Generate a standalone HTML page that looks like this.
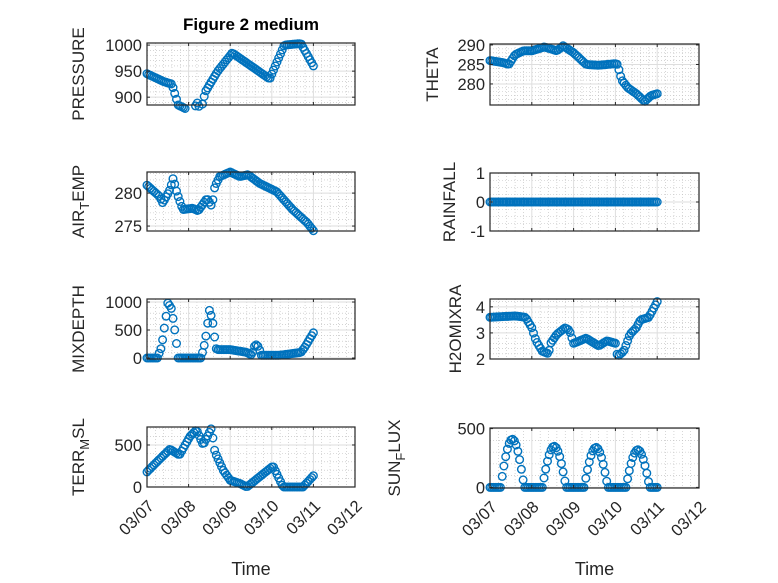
<!DOCTYPE html>
<html><head><meta charset="utf-8"><style>
html,body{margin:0;padding:0;background:#fff;}
svg{display:block;font-family:"Liberation Sans",sans-serif;}
</style></head><body>
<svg id="s" width="778" height="583" xmlns="http://www.w3.org/2000/svg"></svg>
<script>
const S=document.getElementById('s');
let h='';
function lin(kp,t){for(let i=0;i<kp.length-1;i++){if(t>=kp[i][0]&&t<=kp[i+1][0]){const a=kp[i],b=kp[i+1];return a[1]+(b[1]-a[1])*(t-a[0])/(b[0]-a[0]);}}return kp[kp.length-1][1];}
function axes(o){
 const {x0,x1,y0,y1,ymin,ymax,yt,minorY,data,label,lx,xt}=o;
 const X=t=>x0+(x1-x0)*t/5, Y=v=>y1-(y1-y0)*(v-ymin)/(ymax-ymin);
 for(let d=0;d<5;d++)for(let k=1;k<5;k++){const x=X(d+k/5);h+=`<line x1="${x}" y1="${y0}" x2="${x}" y2="${y1}" stroke="#bbb" stroke-width="0.6" stroke-dasharray="1,2"/>`;}
 for(const v of minorY){const y=Y(v);if(y>y0&&y<y1)h+=`<line x1="${x0}" y1="${y}" x2="${x1}" y2="${y}" stroke="#bbb" stroke-width="0.6" stroke-dasharray="1,2"/>`;}
 for(let d=1;d<5;d++){const x=X(d);h+=`<line x1="${x}" y1="${y0}" x2="${x}" y2="${y1}" stroke="#dedede" stroke-width="1"/>`;}
 for(const v of yt){const y=Y(v);h+=`<line x1="${x0}" y1="${y}" x2="${x1}" y2="${y}" stroke="#dedede" stroke-width="1"/>`;}
 let c='';
 for(const p of data){const x=X(p[0]),y=Y(p[1]);if(y<y0-4||y>y1+4)continue;c+=`<circle cx="${x.toFixed(1)}" cy="${y.toFixed(1)}" r="3.8"/>`;}
 h+=`<g fill="none" stroke="#0072BD" stroke-width="1.4">${c}</g>`;
 h+=`<rect x="${x0}" y="${y0}" width="${x1-x0}" height="${y1-y0}" fill="none" stroke="#262626" stroke-width="1.2"/>`;
 for(let d=0;d<=5;d++){const x=X(d);h+=`<line x1="${x}" y1="${y1}" x2="${x}" y2="${y1-3}" stroke="#262626"/><line x1="${x}" y1="${y0}" x2="${x}" y2="${y0+3}" stroke="#262626"/>`;}
 for(const v of yt){const y=Y(v);h+=`<line x1="${x0}" y1="${y}" x2="${x0+3}" y2="${y}" stroke="#262626"/><line x1="${x1}" y1="${y}" x2="${x1-3}" y2="${y}" stroke="#262626"/>`;
  h+=`<text x="${x0-5}" y="${y+6}" font-size="16.5" fill="#262626" text-anchor="end">${v}</text>`;}
 const cy=(y0+y1)/2;
 h+=`<text transform="translate(${lx},${cy}) rotate(-90)" font-size="17" fill="#262626" text-anchor="middle">${label}</text>`;
 if(xt){const L=['03/07','03/08','03/09','03/10','03/11','03/12'];
  for(let d=0;d<=5;d++){const x=X(d);h+=`<text transform="translate(${x+8},${y1+20}) rotate(-45)" font-size="16.5" fill="#262626" text-anchor="end">${L[d]}</text>`;}
  h+=`<text x="${(x0+x1)/2}" y="575" font-size="18" fill="#262626" text-anchor="middle">Time</text>`;}
}
function gen(kp){const a=[];for(let i=0;i<=96;i++){const t=i/24;a.push([t,lin(kp,t)]);}return a;}
const L0=147,L1=355,R0=490,R1=699;
const sub=(a,b,c)=>`${a}<tspan font-size="13" dy="5">${b}</tspan><tspan dy="-5">${c}</tspan>`;
axes({x0:L0,x1:L1,y0:43,y1:105,ymin:885,ymax:1004,yt:[900,950,1000],minorY:[890,910,920,930,940,960,970,980,990],lx:84,label:'PRESSURE',
 data:gen([[0,945],[0.4,930],[0.6,925],[0.75,885],[1.0,875],[1.1,870],[1.2,890],[1.3,875],[1.4,910],[1.7,950],[2.05,985],[2.5,960],[2.95,935],[3.3,1000],[3.7,1003],[4.0,960]])});
axes({x0:R0,x1:R1,y0:44,y1:105,ymin:274.6,ymax:290.25,yt:[280,285,290],minorY:[276,277,278,279,281,282,283,284,286,287,288,289],lx:438,label:'THETA',
 data:gen([[0,286],[0.3,285.5],[0.45,285],[0.6,287.5],[0.8,288.5],[1.0,288.5],[1.3,289.5],[1.6,288.5],[1.75,289.8],[2.0,288],[2.3,285],[2.6,284.8],[3.0,285.2],[3.05,285],[3.15,281],[3.3,279],[3.5,277.5],[3.7,275.5],[3.85,277],[4.0,277.5]])});
axes({x0:L0,x1:L1,y0:172,y1:231,ymin:274.25,ymax:283.2,yt:[275,280],minorY:[276,277,278,279,281,282,283],lx:84,label:sub('AIR','T','EMP'),
 data:gen([[0,281.2],[0.3,279.5],[0.38,278.5],[0.55,280.5],[0.63,282.3],[0.72,280],[0.86,277.5],[1.1,277.7],[1.23,277.3],[1.44,279.2],[1.56,278],[1.63,281],[1.75,282.5],[2.0,283.2],[2.23,282.5],[2.43,282.8],[2.7,281.5],[3.12,280.2],[3.5,277.5],[3.85,275.5],[4.0,274.3]])});
axes({x0:R0,x1:R1,y0:173,y1:231,ymin:-1,ymax:1,yt:[-1,0,1],minorY:[-0.75,-0.5,-0.25,0.25,0.5,0.75],lx:455,label:'RAINFALL',
 data:gen([[0,0],[4,0]])});
axes({x0:L0,x1:L1,y0:299,y1:359,ymin:-18,ymax:1054,yt:[0,500,1000],minorY:[100,200,300,400,600,700,800,900],lx:84,label:'MIXDEPTH',
 data:gen([[0,0],[0.25,0],[0.35,200],[0.45,700],[0.5,980],[0.58,900],[0.65,600],[0.71,250],[0.73,0],[1.3,0],[1.4,300],[1.5,850],[1.57,700],[1.62,400],[1.67,150],[2.0,150],[2.4,100],[2.52,50],[2.6,250],[2.68,200],[2.75,50],[3.2,50],[3.7,100],[3.8,200],[4.0,450]])});
axes({x0:R0,x1:R1,y0:299,y1:359,ymin:2,ymax:4.3,yt:[2,3,4],minorY:[2.2,2.4,2.6,2.8,3.2,3.4,3.6,3.8,4.2],lx:461,label:'H2OMIXRA',
 data:gen([[0,3.6],[0.6,3.65],[0.85,3.6],[1.0,3.2],[1.1,2.7],[1.25,2.3],[1.4,2.2],[1.45,2.6],[1.6,2.95],[1.8,3.2],[1.9,3.1],[2.0,2.6],[2.3,2.8],[2.6,2.5],[2.8,2.7],[3.0,2.6],[3.05,2.1],[3.2,2.3],[3.35,2.95],[3.5,3.2],[3.6,3.5],[3.8,3.6],[4.0,4.2]])});
axes({x0:L0,x1:L1,y0:427,y1:487,ymin:0,ymax:714,yt:[0,500],minorY:[100,200,300,400,600,700],lx:84,label:sub('TERR','M','SL'),xt:true,
 data:gen([[0,180],[0.24,300],[0.55,450],[0.78,380],[1.03,600],[1.19,680],[1.35,500],[1.55,700],[1.63,420],[1.83,200],[2.0,80],[2.24,40],[2.4,0],[3.03,250],[3.27,0],[3.75,0],[4.03,150]])});
(function(){const pk=[410,350,340,320];const d=[];for(let i=0;i<=96;i++){const t=i/24,day=Math.floor(t),f=t-day;let v=0;if(day<4&&f>0.25&&f<0.82)v=pk[day]*Math.sin(Math.PI*(f-0.25)/0.57);d.push([t,v]);}
axes({x0:R0,x1:R1,y0:428,y1:488,ymin:-5,ymax:505,yt:[0,500],minorY:[100,200,300,400],lx:400,label:sub('SUN','F','LUX'),xt:true,data:d});})();
h+=`<text x="251" y="30" font-size="17" font-weight="bold" fill="#000" text-anchor="middle">Figure 2 medium</text>`;
S.innerHTML=h;
</script>
</body></html>
